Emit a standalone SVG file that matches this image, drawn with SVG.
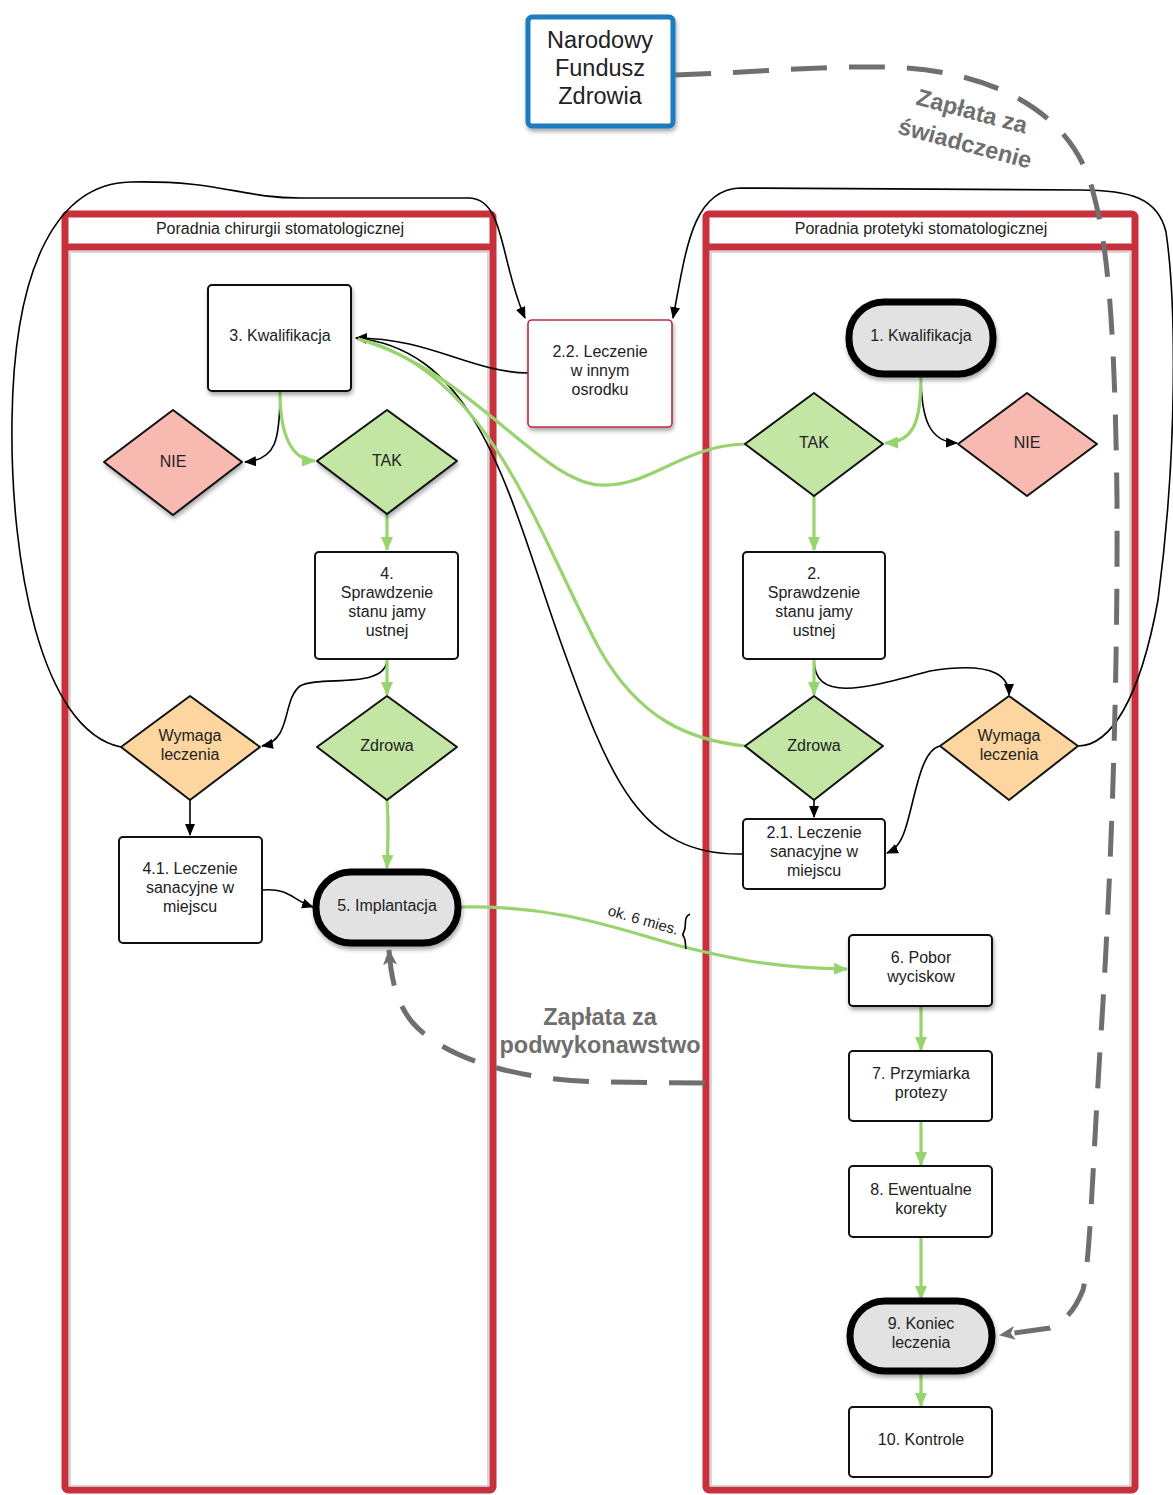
<svg xmlns="http://www.w3.org/2000/svg" width="1173" height="1495" viewBox="0 0 1173 1495">
  <defs>
    <style>
      text { font-family: "Liberation Sans", Arial, sans-serif; fill: #222; }
      .lbl { font-size: 16px; text-anchor: middle; }
      .hdr { font-size: 16px; text-anchor: middle; }
      .lane { fill: #fff; stroke: #c8303c; stroke-width: 7; }
      .lane-in { fill: none; stroke: #c9c9c9; stroke-width: 1.5; }
      .box { fill: #fff; stroke: #111; stroke-width: 2; }
      .pill { fill: #e2e2e2; stroke: #000; stroke-width: 7; }
      .yes { fill: #c3e6a5; stroke: #111; stroke-width: 2; stroke-linejoin: round; }
      .no { fill: #f8b9b0; stroke: #111; stroke-width: 2; stroke-linejoin: round; }
      .treat { fill: #fdd59f; stroke: #111; stroke-width: 2; stroke-linejoin: round; }
      .blk { fill: none; stroke: #000; stroke-width: 1.6; }
      .grn { fill: none; stroke: #98d46e; stroke-width: 3.2; }
      .pay { fill: none; stroke: #6f6f6f; stroke-width: 5; stroke-dasharray: 36 22; }
      .paytxt { font-size: 23.5px; font-weight: bold; fill: #6f6f6f; text-anchor: middle; }
    </style>
    <filter id="sh" x="-10%" y="-10%" width="130%" height="130%">
      <feDropShadow dx="1" dy="3" stdDeviation="2" flood-color="#000" flood-opacity="0.35"/>
    </filter>
    <marker id="ab" viewBox="0 0 12 10" refX="11" refY="5" markerWidth="12" markerHeight="10" markerUnits="userSpaceOnUse" orient="auto">
      <path d="M0,0 L12,5 L0,10 Z" fill="#000"/>
    </marker>
    <marker id="ag" viewBox="0 0 14 12" refX="13" refY="6" markerWidth="14" markerHeight="12" markerUnits="userSpaceOnUse" orient="auto">
      <path d="M0,0 L14,6 L0,12 Z" fill="#98d46e"/>
    </marker>
    <marker id="ap" viewBox="0 0 16 14" refX="15" refY="7" markerWidth="16" markerHeight="14" markerUnits="userSpaceOnUse" orient="auto">
      <path d="M0,0 L16,7 L0,14 L4,7 Z" fill="#6f6f6f"/>
    </marker>
  </defs>

  <!-- swimlanes -->
  <g id="lane-chirurgia">
    <rect class="lane" x="65" y="214" width="428" height="1276" rx="3"/>
    <line x1="65" y1="247" x2="493" y2="247" stroke="#c8303c" stroke-width="7"/>
    <rect class="lane-in" x="70" y="252" width="418" height="1234"/>
    <text class="hdr" x="280" y="234">Poradnia chirurgii stomatologicznej</text>
  </g>
  <g id="lane-protetyka">
    <rect class="lane" x="706" y="214" width="429" height="1276" rx="3"/>
    <line x1="706" y1="247" x2="1135" y2="247" stroke="#c8303c" stroke-width="7"/>
    <rect class="lane-in" x="711" y="252" width="419" height="1234"/>
    <text class="hdr" x="921" y="234">Poradnia protetyki stomatologicznej</text>
  </g>

  <!-- connectors -->
  <g id="connectors">
    <!-- black flows -->
    <path class="blk" d="M121,747 C40,730 10,560 12,420 C14,260 60,184 130,182 C220,180 240,198 300,198 L470,198 C505,200 500,262 525,318" marker-end="url(#ab)"/>
    <path class="blk" d="M1078,746 C1110,746 1140,700 1158,600 C1178,450 1176,300 1166,232 C1158,198 1130,190 1080,190 L740,188 C692,190 686,250 673,318" marker-end="url(#ab)"/>
    <path class="blk" d="M528,373 C470,372 430,338 356,338" marker-end="url(#ab)"/>
    <path class="blk" d="M743,854 C640,856 610,780 560,640 C510,500 480,350 356,338" marker-end="url(#ab)"/>
    <path class="blk" d="M280,392 C280,440 276,460 245,462" marker-end="url(#ab)"/>
    <path class="blk" d="M387,659 C387,690 320,675 300,686 C282,700 292,740 262,746" marker-end="url(#ab)"/>
    <path class="blk" d="M190,800 L190,835" marker-end="url(#ab)"/>
    <path class="blk" d="M263,890 C290,888 292,900 313,907" marker-end="url(#ab)"/>
    <path class="blk" d="M921,375 C921,420 930,442 957,443" marker-end="url(#ab)"/>
    <path class="blk" d="M814,659 C814,702 860,690 930,671 C1000,660 1009,680 1009,695" marker-end="url(#ab)"/>
    <path class="blk" d="M814,800 L814,817" marker-end="url(#ab)"/>
    <path class="blk" d="M940,746 C920,750 915,800 905,830 C900,845 894,850 887,853" marker-end="url(#ab)"/>

    <!-- green flows -->
    <path class="grn" d="M280,392 C280,432 290,460 315,461" marker-end="url(#ag)"/>
    <path class="grn" d="M387,514 L387,550" marker-end="url(#ag)"/>
    <path class="grn" d="M387,659 L387,695" marker-end="url(#ag)"/>
    <path class="grn" d="M387,800 C389,825 388,845 387,868" marker-end="url(#ag)"/>
    <path class="grn" d="M921,375 C921,420 915,442 885,443" marker-end="url(#ag)"/>
    <path class="grn" d="M814,496 L814,550" marker-end="url(#ag)"/>
    <path class="grn" d="M814,659 L814,695" marker-end="url(#ag)"/>
    <path class="grn" d="M745,444 C680,446 650,488 600,485 C540,482 470,370 358,339"/>
    <path class="grn" d="M745,746 C690,740 640,720 600,650 C540,540 490,370 358,339"/>
    <path class="grn" d="M460,907 C560,905 620,930 680,946 C740,961 780,968 847,969" marker-end="url(#ag)"/>
    <path class="grn" d="M921,1006 L921,1050" marker-end="url(#ag)"/>
    <path class="grn" d="M921,1121 L921,1165" marker-end="url(#ag)"/>
    <path class="grn" d="M921,1237 L921,1299" marker-end="url(#ag)"/>
    <path class="grn" d="M921,1373 L921,1406" marker-end="url(#ag)"/>

    <!-- interval note on the implant-to-impression flow -->
    <g id="interval">
      <text x="607" y="915" font-size="15" transform="rotate(16 607 915)">ok. 6 mies.</text>
      <path d="M690,914 C684,917 686,922 685,928 C684,934 681,934 684,937 C686,941 685,944 686,949" fill="none" stroke="#000" stroke-width="1.6"/>
    </g>
  </g>

  <!-- nodes: chirurgia lane -->
  <g id="n3">
    <rect class="box" x="208" y="285" width="143" height="106" rx="4" filter="url(#sh)"/>
    <text class="lbl" x="280" y="341">3. Kwalifikacja</text>
  </g>
  <g id="n3-nie">
    <polygon class="no" points="104,462 173,410 242,462 173,515" filter="url(#sh)"/>
    <text class="lbl" x="173" y="467">NIE</text>
  </g>
  <g id="n3-tak">
    <polygon class="yes" points="317,461 387,410 457,461 387,514" filter="url(#sh)"/>
    <text class="lbl" x="387" y="466">TAK</text>
  </g>
  <g id="n4">
    <rect class="box" x="315" y="552" width="143" height="107" rx="4"/>
    <text class="lbl" x="387" y="579">4.</text>
    <text class="lbl" x="387" y="598">Sprawdzenie</text>
    <text class="lbl" x="387" y="617">stanu jamy</text>
    <text class="lbl" x="387" y="636">ustnej</text>
  </g>
  <g id="n4-wymaga">
    <polygon class="treat" points="121,747 190,696 260,747 190,800"/>
    <text class="lbl" x="190" y="741">Wymaga</text>
    <text class="lbl" x="190" y="760">leczenia</text>
  </g>
  <g id="n4-zdrowa">
    <polygon class="yes" points="317,747 387,696 457,747 387,800"/>
    <text class="lbl" x="387" y="751">Zdrowa</text>
  </g>
  <g id="n41">
    <rect class="box" x="119" y="837" width="143" height="106" rx="4"/>
    <text class="lbl" x="190" y="874">4.1. Leczenie</text>
    <text class="lbl" x="190" y="893">sanacyjne w</text>
    <text class="lbl" x="190" y="912">miejscu</text>
  </g>
  <g id="n5">
    <rect class="pill" x="316" y="872" width="142" height="71" rx="35" filter="url(#sh)"/>
    <text class="lbl" x="387" y="911">5. Implantacja</text>
  </g>

  <!-- node between lanes -->
  <g id="n22">
    <rect x="528" y="320" width="144" height="107" rx="4" fill="#fff" stroke="#b4303c" stroke-width="1.6" filter="url(#sh)"/>
    <text class="lbl" x="600" y="357">2.2. Leczenie</text>
    <text class="lbl" x="600" y="376">w innym</text>
    <text class="lbl" x="600" y="395">osrodku</text>
  </g>

  <!-- nodes: protetyka lane -->
  <g id="n1">
    <rect class="pill" x="849" y="302" width="144" height="72" rx="35" filter="url(#sh)"/>
    <text class="lbl" x="921" y="341">1. Kwalifikacja</text>
  </g>
  <g id="n1-tak">
    <polygon class="yes" points="745,444 814,393 883,444 814,496"/>
    <text class="lbl" x="814" y="448">TAK</text>
  </g>
  <g id="n1-nie">
    <polygon class="no" points="958,444 1027,393 1097,444 1027,496"/>
    <text class="lbl" x="1027" y="448">NIE</text>
  </g>
  <g id="n2">
    <rect class="box" x="743" y="552" width="142" height="107" rx="4"/>
    <text class="lbl" x="814" y="579">2.</text>
    <text class="lbl" x="814" y="598">Sprawdzenie</text>
    <text class="lbl" x="814" y="617">stanu jamy</text>
    <text class="lbl" x="814" y="636">ustnej</text>
  </g>
  <g id="n2-zdrowa">
    <polygon class="yes" points="745,746 814,696 883,746 814,800"/>
    <text class="lbl" x="814" y="751">Zdrowa</text>
  </g>
  <g id="n2-wymaga">
    <polygon class="treat" points="940,746 1009,696 1078,746 1009,800"/>
    <text class="lbl" x="1009" y="741">Wymaga</text>
    <text class="lbl" x="1009" y="760">leczenia</text>
  </g>
  <g id="n21">
    <rect class="box" x="743" y="819" width="142" height="70" rx="4"/>
    <text class="lbl" x="814" y="838">2.1. Leczenie</text>
    <text class="lbl" x="814" y="857">sanacyjne w</text>
    <text class="lbl" x="814" y="876">miejscu</text>
  </g>
  <g id="n6">
    <rect class="box" x="849" y="935" width="143" height="71" rx="4" filter="url(#sh)"/>
    <text class="lbl" x="921" y="963">6. Pobor</text>
    <text class="lbl" x="921" y="982">wyciskow</text>
  </g>
  <g id="n7">
    <rect class="box" x="849" y="1051" width="143" height="70" rx="4"/>
    <text class="lbl" x="921" y="1079">7. Przymiarka</text>
    <text class="lbl" x="921" y="1098">protezy</text>
  </g>
  <g id="n8">
    <rect class="box" x="849" y="1166" width="143" height="71" rx="4"/>
    <text class="lbl" x="921" y="1195">8. Ewentualne</text>
    <text class="lbl" x="921" y="1214">korekty</text>
  </g>
  <g id="n9">
    <rect class="pill" x="850" y="1301" width="142" height="70" rx="35" filter="url(#sh)"/>
    <text class="lbl" x="921" y="1329">9. Koniec</text>
    <text class="lbl" x="921" y="1348">leczenia</text>
  </g>
  <g id="n10">
    <rect class="box" x="849" y="1407" width="143" height="70" rx="4"/>
    <text class="lbl" x="921" y="1445">10. Kontrole</text>
  </g>

  <!-- payer -->
  <g id="nfz">
    <rect x="528" y="17" width="145" height="109" rx="4" fill="#fff" stroke="#1a7bbf" stroke-width="5" filter="url(#sh)"/>
    <text x="600" y="48" font-size="23.5" text-anchor="middle">Narodowy</text>
    <text x="600" y="76" font-size="23.5" text-anchor="middle">Fundusz</text>
    <text x="600" y="104" font-size="23.5" text-anchor="middle">Zdrowia</text>
  </g>

  <!-- payment flows -->
  <g id="payments">
    <path class="pay" d="M675,75 C760,72 820,66 880,67 C1000,68 1075,118 1093,192 C1108,245 1115,330 1117,500 C1118,700 1110,900 1100,1050 C1092,1180 1090,1260 1083,1290 C1075,1310 1066,1320 1050,1328 L1000,1335" marker-end="url(#ap)"/>
    <text class="paytxt" transform="rotate(15 970 119)" x="970" y="119">Zapłata za</text>
    <text class="paytxt" transform="rotate(15 963 151)" x="963" y="151">świadczenie</text>

    <path class="pay" d="M705,1083 L600,1082 C520,1080 445,1060 412,1022 C396,1002 391,978 389,950" marker-end="url(#ap)"/>
    <text class="paytxt" x="600" y="1025">Zapłata za</text>
    <text class="paytxt" x="600" y="1053">podwykonawstwo</text>
  </g>
</svg>
